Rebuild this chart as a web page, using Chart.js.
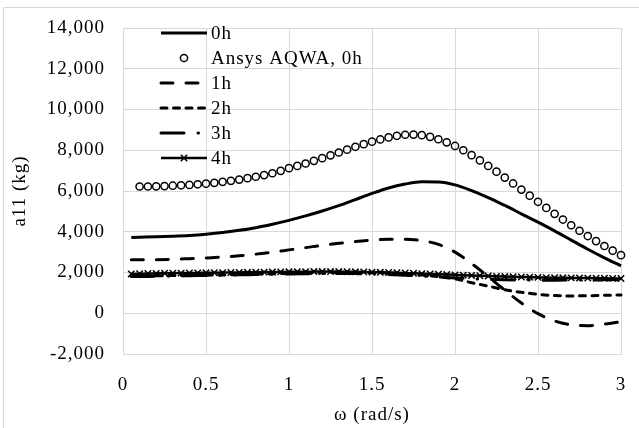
<!DOCTYPE html>
<html lang="en">
<head>
<meta charset="UTF-8">
<title>a11 added mass</title>
<script src="https://cdn.jsdelivr.net/npm/chart.js"></script>
<style>
    body { margin: 0; background: #fff; }
    #wrap { width: 639px; height: 428px; }
</style>
</head>
<body>
<div id="wrap"><canvas id="a11Chart" width="639" height="428"></canvas></div>
<script>
// frequency grids (rad/s)
const omegaFine = [0.05, 0.10, 0.15, 0.20, 0.25, 0.30, 0.35, 0.40, 0.45, 0.50,
    0.55, 0.60, 0.65, 0.70, 0.75, 0.80, 0.85, 0.90, 0.95, 1.00,
    1.05, 1.10, 1.15, 1.20, 1.25, 1.30, 1.35, 1.40, 1.45, 1.50,
    1.55, 1.60, 1.65, 1.70, 1.75, 1.80, 1.85, 1.90, 1.95, 2.00,
    2.05, 2.10, 2.15, 2.20, 2.25, 2.30, 2.35, 2.40, 2.45, 2.50,
    2.55, 2.60, 2.65, 2.70, 2.75, 2.80, 2.85, 2.90, 2.95, 3.00];
const omegaCoarse = [0.05, 0.1, 0.2, 0.3, 0.4, 0.5, 0.6, 0.7, 0.8, 0.9, 1.0,
    1.1, 1.2, 1.3, 1.4, 1.5, 1.6, 1.7, 1.8, 1.9, 2.0,
    2.1, 2.2, 2.3, 2.4, 2.5, 2.6, 2.7, 2.8, 2.9, 3.0];

// a11 (kg) per case
const a11_0h = [3720, 3730, 3750, 3780, 3820, 3880, 3960, 4070, 4200, 4370, 4560,
    4780, 5020, 5280, 5580, 5880, 6150, 6340, 6450, 6440, 6300,
    6020, 5680, 5290, 4880, 4470, 4040, 3590, 3140, 2720, 2330];
const a11_aqwa = [null, 6220, 6220, 6230, 6240, 6260, 6280, 6300, 6330, 6360,
    6400, 6450, 6500, 6560, 6630, 6700, 6780, 6870, 6990, 7120,
    7230, 7350, 7480, 7610, 7750, 7890, 8030, 8170, 8300, 8420,
    8530, 8630, 8710, 8760, 8770, 8740, 8660, 8540, 8390, 8210,
    8000, 7760, 7500, 7230, 6950, 6660, 6370, 6070, 5770, 5470,
    5170, 4880, 4600, 4320, 4050, 3790, 3540, 3300, 3070, 2850];
const a11_1h = [2620, 2620, 2630, 2650, 2680, 2710, 2760, 2820, 2900, 3000, 3110,
    3220, 3330, 3430, 3520, 3590, 3630, 3630, 3560, 3380, 3000,
    2440, 1800, 1130, 500, -20, -380, -570, -610, -530, -410];
const a11_2h = [1830, 1830, 1840, 1850, 1860, 1870, 1880, 1900, 1920, 1940, 1960,
    1980, 1990, 2000, 2000, 1990, 1970, 1940, 1880, 1800, 1690,
    1500, 1330, 1150, 1030, 930, 870, 850, 860, 880, 900];
const a11_3h = [1800, 1805, 1815, 1825, 1840, 1855, 1870, 1885, 1900, 1915, 1930,
    1940, 1950, 1950, 1945, 1930, 1905, 1870, 1825, 1780, 1735,
    1695, 1665, 1645, 1630, 1625, 1625, 1630, 1635, 1640, 1645];
const a11_4h = [1930, 1940, 1950, 1955, 1960, 1965, 1970, 1975, 1980, 1985,
    1990, 1995, 2000, 2005, 2010, 2015, 2020, 2025, 2030, 2035,
    2040, 2040, 2045, 2045, 2045, 2045, 2040, 2035, 2030, 2020,
    2010, 2000, 1990, 1975, 1960, 1945, 1930, 1915, 1900, 1885,
    1870, 1855, 1840, 1825, 1810, 1800, 1790, 1780, 1770, 1760,
    1750, 1745, 1740, 1735, 1730, 1725, 1720, 1715, 1710, 1705];

const seriesLabels = ['0h', 'Ansys AQWA, 0h', '1h', '2h', '3h', '4h'];
const xTitle = 'ω (rad/s)';
const yTitle = 'a11 (kg)';

const serif = "'Liberation Serif', 'Times New Roman', serif";
const fontSize = 19;
const gridColor = '#d9d9d9';

function pairs(xs, ys) {
    return xs.map((x, i) => ({ x: x, y: ys[i] }));
}

function lineSet(label, xs, ys, dash, width) {
    return {
        label: label,
        data: pairs(xs, ys),
        borderColor: '#000',
        backgroundColor: '#000',
        borderWidth: width,
        borderDash: dash,
        borderCapStyle: dash.length ? 'round' : 'butt',
        pointRadius: 0,
        cubicInterpolationMode: 'monotone',
        clip: false
    };
}

const datasets = [
    lineSet(seriesLabels[0], omegaCoarse, a11_0h, [], 3),
    {
        label: seriesLabels[1],
        data: pairs(omegaFine, a11_aqwa),
        showLine: false,
        pointStyle: 'circle',
        pointRadius: 3.6,
        pointBorderWidth: 1.5,
        borderColor: '#000',
        backgroundColor: 'rgba(0,0,0,0)',
        clip: false
    },
    lineSet(seriesLabels[2], omegaCoarse, a11_1h, [12, 13], 3),
    lineSet(seriesLabels[3], omegaCoarse, a11_2h, [6, 6.5], 3),
    lineSet(seriesLabels[4], omegaCoarse, a11_3h, [23, 14, 0.5, 14], 3),
    Object.assign(lineSet(seriesLabels[5], omegaFine, a11_4h, [], 2.5), {
        pointStyle: 'crossRot',
        pointRadius: 4.5,
        pointBorderWidth: 1.5
    })
];

// white page, light frame, a little letter spacing for the serif text
const framePlugin = {
    id: 'frame',
    beforeDraw(chart) {
        const ctx = chart.ctx;
        ctx.letterSpacing = '1px';
        ctx.save();
        ctx.fillStyle = '#fff';
        ctx.fillRect(0, 0, chart.width, chart.height);
        ctx.strokeStyle = gridColor;
        ctx.lineWidth = 1;
        ctx.beginPath();
        ctx.moveTo(3.5, chart.height);
        ctx.lineTo(3.5, 7.5);
        ctx.lineTo(chart.width, 7.5);
        ctx.stroke();
        ctx.restore();
    }
};

// legend sits inside the plot, top left
const legendPlugin = {
    id: 'inlineLegend',
    afterDraw(chart) {
        const ctx = chart.ctx;
        const x0 = 161, x1 = 207, tx = 211;
        ctx.save();
        ctx.font = fontSize + 'px ' + serif;
        ctx.textBaseline = 'middle';
        chart.data.datasets.forEach((ds, i) => {
            const y = 33 + i * 25;
            ctx.strokeStyle = '#000';
            if (ds.showLine !== false) {
                ctx.lineWidth = ds.borderWidth;
                ctx.lineCap = ds.borderCapStyle;
                ctx.setLineDash(ds.borderDash);
                ctx.beginPath();
                ctx.moveTo(x0, y);
                ctx.lineTo(x1, y);
                ctx.stroke();
                ctx.setLineDash([]);
            }
            if (ds.pointStyle) {
                ctx.lineWidth = ds.pointBorderWidth;
                ctx.fillStyle = 'rgba(0,0,0,0)';
                Chart.helpers.drawPoint(ctx, {
                    pointStyle: ds.pointStyle,
                    radius: ds.pointRadius,
                    borderWidth: ds.pointBorderWidth,
                    rotation: 0
                }, (x0 + x1) / 2, y);
            }
            ctx.fillStyle = '#000';
            ctx.fillText(ds.label, tx, y + 1);
        });
        ctx.restore();
    }
};

const axisFont = { family: serif, size: fontSize };

new Chart(document.getElementById('a11Chart'), {
    type: 'line',
    data: { datasets: datasets },
    plugins: [framePlugin, legendPlugin],
    options: {
        responsive: false,
        devicePixelRatio: 1,
        animation: false,
        layout: { padding: { left: 0, right: 18, top: 28, bottom: 0 } },
        plugins: { legend: { display: false }, tooltip: { enabled: false } },
        font: axisFont,
        color: '#000',
        scales: {
            x: {
                type: 'linear',
                min: 0,
                max: 3,
                ticks: {
                    stepSize: 0.5, padding: 19.5, color: '#000', font: axisFont,
                    callback: (v) => String(Number(v.toFixed(1)))
                },
                grid: { color: gridColor, drawTicks: false },
                border: { color: gridColor },
                title: { display: true, text: xTitle, color: '#000', padding: { top: 0, bottom: 2 },
                    font: axisFont },
                afterFit(scale) {
                    scale.height = 74;
                    scale.paddingLeft = 0;
                    scale.paddingRight = 0;
                }
            },
            y: {
                min: -2000,
                max: 14000,
                ticks: { stepSize: 2000, padding: 18, color: '#000', font: axisFont },
                grid: { color: gridColor, drawTicks: false },
                border: { color: gridColor },
                title: { display: true, text: yTitle, color: '#000', padding: { top: 9, bottom: 0 },
                    font: axisFont },
                afterFit(scale) {
                    scale.width = 123;
                    scale.paddingTop = 0;
                    scale.paddingBottom = 0;
                }
            }
        }
    }
});
</script>
</body>
</html>
